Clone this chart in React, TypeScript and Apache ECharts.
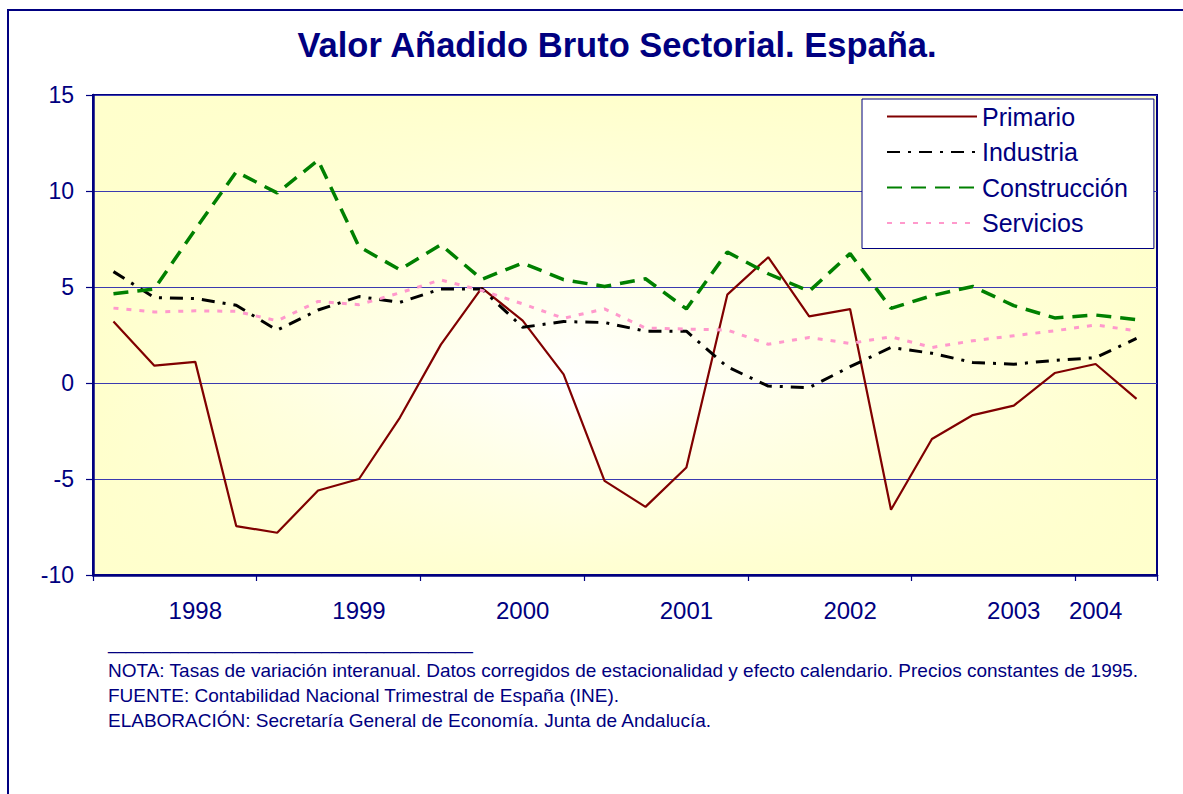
import React, { useEffect, useRef } from "react";
import * as echarts from "echarts";

const quarters = [
  "1998-I", "1998-II", "1998-III", "1998-IV",
  "1999-I", "1999-II", "1999-III", "1999-IV",
  "2000-I", "2000-II", "2000-III", "2000-IV",
  "2001-I", "2001-II", "2001-III", "2001-IV",
  "2002-I", "2002-II", "2002-III", "2002-IV",
  "2003-I", "2003-II", "2003-III", "2003-IV",
  "2004-I", "2004-II",
];

const xTickLabels = [
  "", "", "1998", "", "", "", "1999", "", "", "", "2000", "", "", "",
  "2001", "", "", "", "2002", "", "", "", "2003", "", "2004", "",
];

const primario = [3.2, 0.9, 1.1, -7.45, -7.8, -5.6, -5.0, -1.8, 2.0, 4.95, 3.25, 0.45, -5.1, -6.45, -4.4, 4.6, 6.55, 3.47, 3.85, -6.6, -2.92, -1.67, -1.18, 0.52, 0.99, -0.83];
const industria = [5.8, 4.45, 4.4, 4.05, 2.75, 3.8, 4.5, 4.2, 4.9, 4.9, 2.9, 3.2, 3.15, 2.7, 2.7, 0.84, -0.16, -0.24, 0.85, 1.85, 1.55, 1.07, 0.98, 1.18, 1.32, 2.32];
const construccion = [4.65, 4.9, 8.0, 11.0, 9.9, 11.6, 7.1, 5.9, 7.2, 5.4, 6.25, 5.38, 5.03, 5.43, 3.86, 6.82, 5.69, 4.78, 6.74, 3.89, 4.55, 5.03, 4.03, 3.39, 3.54, 3.3];
const servicios = [3.9, 3.7, 3.76, 3.73, 3.24, 4.25, 4.08, 4.7, 5.37, 4.82, 4.12, 3.37, 3.86, 2.86, 2.81, 2.76, 2.02, 2.37, 2.06, 2.41, 1.85, 2.2, 2.46, 2.72, 3.02, 2.72];

const titleText = "Valor Añadido Bruto Sectorial. España.";
const notes = [
  "NOTA: Tasas de variación interanual. Datos corregidos de estacionalidad y efecto calendario. Precios constantes de 1995.",
  "FUENTE: Contabilidad Nacional Trimestral de España (INE).",
  "ELABORACIÓN: Secretaría General de Economía. Junta de Andalucía.",
];

const NAVY = "#000080";
const FONT = "'Liberation Sans', Arial, sans-serif";
const HIDDEN = "rgba(0,0,0,0)";

export default function App() {
  const ref = useRef<HTMLDivElement>(null);

  useEffect(() => {
    if (!ref.current) return;
    const chart = echarts.init(ref.current, null, { renderer: "svg" });
    const gl = 93, gt = 95, gw = 1064, gh = 480;
    const lineSeries = (name: string, data: number[], color: string, width: number, type: any) => ({
      name, type: "line", data,
      symbol: "circle", showSymbol: false, symbolSize: 0,
      lineStyle: { color, width, type },
      itemStyle: { color: HIDDEN, borderColor: HIDDEN, borderWidth: 0 },
      emphasis: { disabled: true },
    });
    chart.setOption({
      animation: false,
      backgroundColor: "#ffffff",
      textStyle: { fontFamily: FONT },
      grid: {
        left: gl, top: gt, right: 1183 - gl - gw, bottom: 794 - gt - gh,
        show: true, borderColor: NAVY, borderWidth: 2, backgroundColor: "transparent",
      },
      legend: {
        orient: "vertical",
        left: 862, top: 99,
        itemWidth: 90, itemHeight: 14, itemGap: 10.5,
        padding: [5, 26, 13, 24],
        backgroundColor: "#ffffff",
        borderColor: NAVY, borderWidth: 1,
        textStyle: { fontSize: 25, lineHeight: 25, color: NAVY, fontFamily: FONT },
        data: ["Primario", "Industria", "Construcción", "Servicios"],
      },
      xAxis: {
        type: "category",
        data: quarters,
        boundaryGap: true,
        axisLine: { onZero: false, lineStyle: { color: NAVY, width: 2.5 } },
        axisTick: {
          show: true, length: 6, interval: (i: number) => i % 4 === 0,
          lineStyle: { color: NAVY, width: 1.2 },
        },
        axisLabel: {
          interval: 0, margin: 23, fontSize: 24, color: NAVY, fontFamily: FONT,
          formatter: (_v: string, i: number) => xTickLabels[i],
        },
        splitLine: { show: false },
      },
      yAxis: {
        type: "value",
        min: -10, max: 15, interval: 5,
        axisLine: { show: true, lineStyle: { color: NAVY, width: 2.5 } },
        axisTick: { show: true, length: 7, lineStyle: { color: NAVY, width: 1.2 } },
        axisLabel: { margin: 19, fontSize: 23, color: NAVY, fontFamily: FONT },
        splitLine: { show: true, lineStyle: { color: "#3a3ab0", width: 1 } },
      },
      graphic: [
        {
          type: "rect", z: -10, silent: true,
          shape: { x: gl, y: gt, width: gw, height: gh },
          style: {
            fill: {
              type: "linear", x: 0, y: 0, x2: 1, y2: 0,
              colorStops: [
                { offset: 0, color: "#ffffcc" },
                { offset: 0.45, color: "#ffffff" },
                { offset: 1, color: "#ffffcc" },
              ],
            },
          },
        },
        {
          type: "rect", z: -9, silent: true,
          shape: { x: gl, y: gt, width: gw, height: gh },
          style: {
            fill: {
              type: "linear", x: 0, y: 0, x2: 0, y2: 1,
              colorStops: [
                { offset: 0, color: "rgba(255,255,204,1)" },
                { offset: 0.6, color: "rgba(255,255,204,0)" },
                { offset: 1, color: "rgba(255,255,204,0.9)" },
              ],
            },
          },
        },
        {
          type: "rect", z: 10, silent: true,
          shape: { x: 8, y: 10, width: 1400, height: 1000 },
          style: { fill: "none", stroke: NAVY, lineWidth: 2 },
        },
        {
          type: "text", x: 617, y: 45, silent: true,
          style: {
            text: titleText, fill: NAVY, fontSize: 34.5, fontWeight: "bold",
            fontFamily: FONT, textAlign: "center", textVerticalAlign: "middle",
          },
        },
        {
          type: "text", x: 108, y: 644, silent: true,
          style: {
            text: "_________________________________________", fill: NAVY, fontSize: 16,
            fontFamily: FONT, textAlign: "left", textVerticalAlign: "middle",
          },
        },
        ...notes.map((t, i) => ({
          type: "text", x: 108, y: 670 + 25 * i, silent: true,
          style: {
            text: t, fill: NAVY, fontSize: 19, fontFamily: FONT,
            textAlign: "left", textVerticalAlign: "middle",
          },
        })),
      ],
      series: [
        lineSeries("Primario", primario, "#800000", 2.2, "solid"),
        lineSeries("Industria", industria, "#000000", 3, [13, 8, 3, 8]),
        lineSeries("Construcción", construccion, "#008000", 3.5, [15, 9]),
        lineSeries("Servicios", servicios, "#ff99cc", 3, [5, 8]),
      ],
    });
    return () => chart.dispose();
  }, []);

  return (
    <div
      ref={ref}
      style={{ position: "fixed", left: 0, top: 0, width: 1183, height: 794, background: "#fff" }}
    />
  );
}
